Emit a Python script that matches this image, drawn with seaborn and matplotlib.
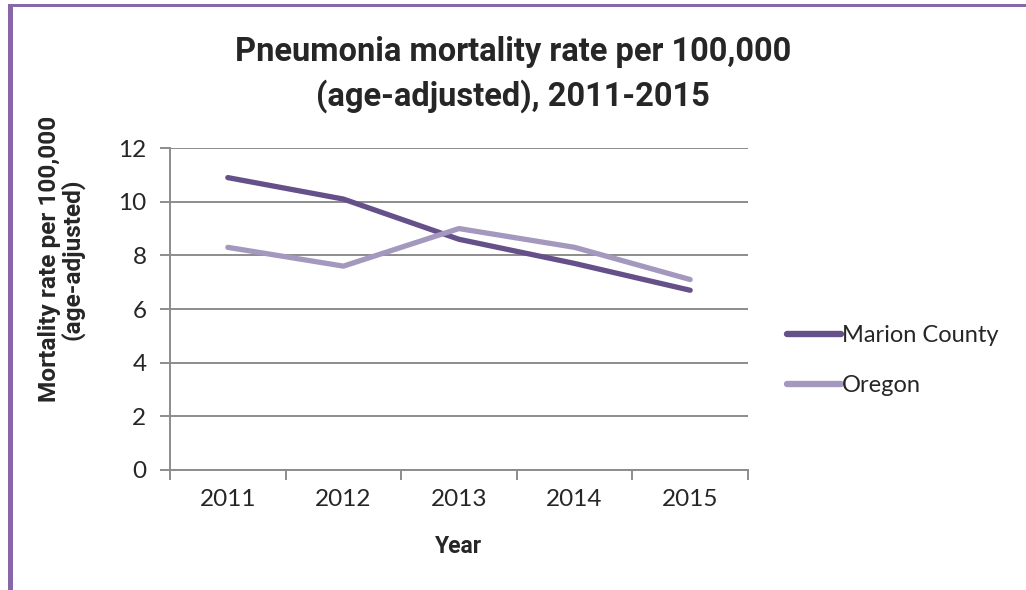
import matplotlib
matplotlib.use("Agg")
import matplotlib.pyplot as plt
import matplotlib.patches as mpatches
import numpy as np
import pandas as pd
import seaborn as sns

# ── data ──────────────────────────────────────────────────────────────────────
years = ["2011", "2012", "2013", "2014", "2015"]
marion = [10.9, 10.1, 8.6, 7.7, 6.7]
oregon = [8.3, 7.6, 9.0, 8.3, 7.1]
series_names = ["Marion County", "Oregon"]
colors = {"Marion County": "#65508A", "Oregon": "#A598BE"}

df = pd.DataFrame({
    "idx": list(range(len(years))) * 2,
    "rate": marion + oregon,
    "area": [series_names[0]] * len(years) + [series_names[1]] * len(years),
})

# ── style ─────────────────────────────────────────────────────────────────────
sns.set_theme(style="white")
plt.rcParams["font.family"] = ["Lato", "DejaVu Sans"]
BOLD = ["Roboto", "DejaVu Sans"]
GRID = "#8C8C8C"

fig = plt.figure(figsize=(10.26, 5.9), dpi=100)
ax = fig.add_axes([0.1657, 0.2034, 0.5633, 0.5456])

sns.lineplot(data=df, x="idx", y="rate", hue="area", palette=colors,
             linewidth=3.8, ax=ax, legend=False, solid_capstyle="round")

ax.set_xlim(-0.5, len(years) - 0.5)
ax.set_ylim(0, 12)
ax.set_yticks(np.arange(0, 13, 2))
ax.set_yticklabels([str(v) for v in range(0, 13, 2)], fontsize=17.5)
ax.yaxis.grid(True, color=GRID, linewidth=1.4)
ax.set_axisbelow(True)

# categories centred, tick marks between them (Excel style)
ax.set_xticks(range(len(years)))
ax.set_xticklabels(years, fontsize=17.5)
ax.set_xticks(np.arange(-0.5, len(years), 1.0), minor=True)
ax.tick_params(axis="x", which="major", length=0, pad=14)
ax.tick_params(axis="x", which="minor", length=7, width=1.4, color=GRID,
               direction="out", bottom=True)
ax.tick_params(axis="y", length=7, width=1.4, color=GRID, direction="out",
               left=True, pad=10)

for side in ["top", "right"]:
    ax.spines[side].set_visible(False)
for side in ["left", "bottom"]:
    ax.spines[side].set_color(GRID)
    ax.spines[side].set_linewidth(1.4)

ax.set_xlabel("Year", fontsize=16.5, fontweight="bold", family=BOLD, labelpad=18)
ax.set_ylabel("")

fig.text(0.060, 0.561, "Mortality rate per 100,000\n(age-adjusted)",
         rotation=90, ha="center", va="center", fontsize=17.6,
         fontweight="bold", family=BOLD, linespacing=0.95)

fig.text(0.5, 0.873, "Pneumonia mortality rate per 100,000\n(age-adjusted), 2011-2015",
         ha="center", va="center", fontsize=23.5, fontweight="bold",
         family=BOLD, linespacing=1.42)

handles = [plt.Line2D([], [], color=colors[n], linewidth=4.6,
                      solid_capstyle="round") for n in series_names]
ax.legend(handles, series_names, frameon=False, fontsize=17,
          loc="center left", bbox_to_anchor=(1.03, 0.34),
          handlelength=2.3, handletextpad=0.05, labelspacing=1.25)

# purple frame on top and left
BORDER = "#8767A7"
fig.add_artist(mpatches.Rectangle((8 / 1026, 0), 5 / 1026, 1 - 4 / 590,
                                  transform=fig.transFigure, color=BORDER, lw=0))
fig.add_artist(mpatches.Rectangle((8 / 1026, 1 - 7 / 590), 1, 3 / 590,
                                  transform=fig.transFigure, color=BORDER, lw=0))

fig.savefig("out.png", dpi=100, facecolor="white")
